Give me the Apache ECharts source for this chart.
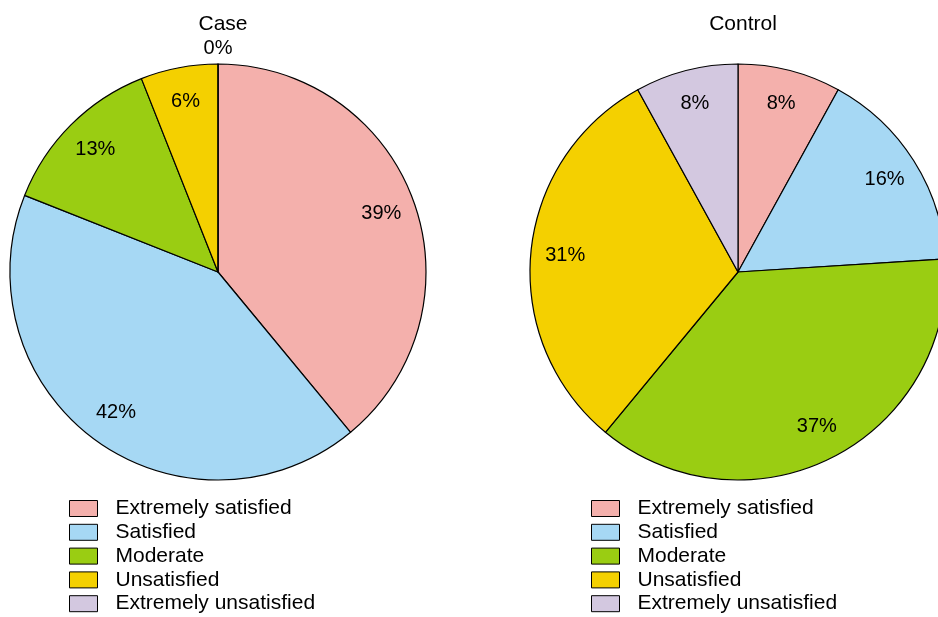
<!DOCTYPE html>
<html>
<head>
<meta charset="utf-8">
<script src="https://cdn.jsdelivr.net/npm/echarts@6/dist/echarts.min.js"></script>
<style>
html,body{margin:0;padding:0;background:#fff;}
#chart{width:938px;height:617px;}
</style>
</head>
<body>
<div id="chart"></div>
<script>
const categories = ['Extremely satisfied', 'Satisfied', 'Moderate', 'Unsatisfied', 'Extremely unsatisfied'];
const colors = ['#F4B0AC', '#A6D8F4', '#9ACD12', '#F4D000', '#D3C8E0'];
const caseValues = [39, 42, 13, 6, 0];
const controlValues = [8, 16, 37, 31, 8];
const panelTitles = ['Case', 'Control'];

const FONT = '"Liberation Sans", Arial, Helvetica, sans-serif';
const R = 208;
const centers = [[218, 272], [738, 272]];
const valueSets = [caseValues, controlValues];

function toData(vals, transparent) {
  return categories.map((c, i) => ({
    name: c,
    value: vals[i],
    itemStyle: transparent ? { color: 'rgba(0,0,0,0)', borderWidth: 0 } : { color: colors[i] }
  }));
}

const series = [];
valueSets.forEach((vals, k) => {
  series.push({
    type: 'pie',
    center: centers[k],
    radius: [0, R],
    startAngle: 90,
    clockwise: true,
    avoidLabelOverlap: false,
    animation: false,
    data: toData(vals, false),
    itemStyle: { borderColor: '#000', borderWidth: 1.2 },
    label: { show: false },
    labelLine: { show: false },
    emphasis: { disabled: true }
  });
});
valueSets.forEach((vals, k) => {
  series.push({
    type: 'pie',
    center: centers[k],
    radius: [R * 0.64, R],
    startAngle: 90,
    clockwise: true,
    silent: true,
    animation: false,
    avoidLabelOverlap: false,
    data: toData(vals, true),
    label: {
      show: true, position: 'inside', color: '#000', fontFamily: FONT, fontSize: 20,
      formatter: p => p.value > 0 ? p.value + '%' : ''
    },
    labelLine: { show: false },
    emphasis: { disabled: true }
  });
  series.push({
    type: 'pie',
    center: centers[k],
    radius: [R, R * 1.12],
    startAngle: 90,
    clockwise: true,
    silent: true,
    animation: false,
    avoidLabelOverlap: false,
    data: toData(vals, true),
    label: {
      show: true, position: 'inside', color: '#000', fontFamily: FONT, fontSize: 20,
      formatter: p => p.value === 0 ? '0%' : ''
    },
    labelLine: { show: false },
    emphasis: { disabled: true }
  });
});

const legendBase = {
  orient: 'vertical',
  top: 498,
  height: 119,
  padding: 0,
  itemWidth: 28,
  itemHeight: 16,
  itemGap: 2.8,
  icon: 'rect',
  selectedMode: false,
  data: categories,
  textStyle: { fontFamily: FONT, fontSize: 21, color: '#000', padding: [0, 0, 0, 13] },
  itemStyle: { borderColor: '#000', borderWidth: 1 }
};

const option = {
  backgroundColor: '#fff',
  animation: false,
  title: panelTitles.map((t, k) => ({
    text: t,
    left: centers[k][0],
    top: 9,
    textAlign: 'center',
    textStyle: { fontFamily: FONT, fontSize: 21, fontWeight: 'normal', color: '#000' }
  })),
  legend: [
    Object.assign({}, legendBase, { left: 69 }),
    Object.assign({}, legendBase, { left: 591 })
  ],
  series: series
};

const chart = echarts.init(document.getElementById('chart'), null, { renderer: 'canvas' });
chart.setOption(option);
</script>
</body>
</html>
